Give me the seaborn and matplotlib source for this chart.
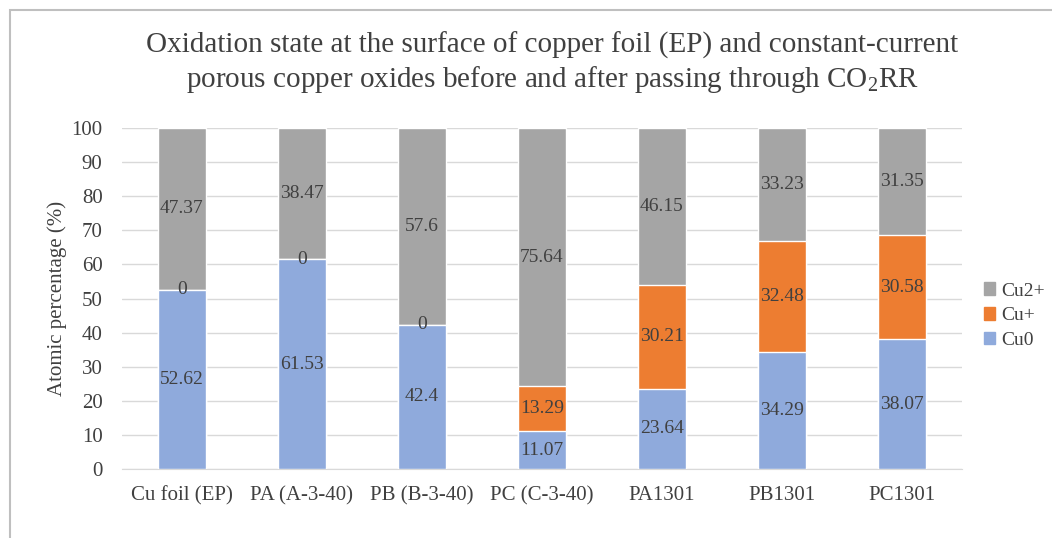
import numpy as np
import pandas as pd
import matplotlib
matplotlib.use("Agg")
import matplotlib.pyplot as plt
import seaborn as sns
from matplotlib.patches import Patch, Rectangle

samples = ["Cu foil (EP)", "PA (A-3-40)", "PB (B-3-40)", "PC (C-3-40)", "PA1301", "PB1301", "PC1301"]
cu0 = [52.62, 61.53, 42.4, 11.07, 23.64, 34.29, 38.07]
cu1 = [0, 0, 0, 13.29, 30.21, 32.48, 30.58]
cu2 = [47.37, 38.47, 57.6, 75.64, 46.15, 33.23, 31.35]

colors = {"Cu0": "#8FAADC", "Cu+": "#ED7D31", "Cu2+": "#A5A5A5"}

sns.set_style("white")
plt.rcParams["font.family"] = ["Liberation Serif", "DejaVu Serif"]
plt.rcParams["mathtext.fontset"] = "custom"
plt.rcParams["mathtext.rm"] = "Liberation Serif"

df = pd.DataFrame({"sample": samples, "Cu0": cu0, "Cu+": cu1, "Cu2+": cu2})
df["top0"] = df["Cu0"]
df["top1"] = df["Cu0"] + df["Cu+"]
df["top2"] = df["top1"] + df["Cu2+"]

fig = plt.figure(figsize=(10.52, 5.38), dpi=100)
ax = fig.add_axes([0.116, 0.128, 0.798, 0.634])

# stacked bars: draw cumulative tops from largest to smallest
sns.barplot(data=df, x="sample", y="top2", color=colors["Cu2+"], width=0.4, ax=ax, saturation=1, zorder=3)
sns.barplot(data=df, x="sample", y="top1", color=colors["Cu+"], width=0.4, ax=ax, saturation=1, zorder=3)
sns.barplot(data=df, x="sample", y="top0", color=colors["Cu0"], width=0.4, ax=ax, saturation=1, zorder=3)

lab = dict(ha="center", va="center", fontsize=14, color="#404040", zorder=5)
for i, row in df.iterrows():
    ax.text(i, row["Cu0"] / 2, f"{row['Cu0']:g}", **lab)
    ax.text(i, row["Cu0"] + row["Cu+"] / 2, f"{row['Cu+']:g}", **lab)
    ax.text(i, row["top1"] + row["Cu2+"] / 2, f"{row['Cu2+']:g}", **lab)

ax.set_ylim(0, 100)
ax.set_xlim(-0.5, len(samples) - 0.5)
ax.set_yticks(np.arange(0, 101, 10))
ax.yaxis.grid(True, color="#D9D9D9", linewidth=1, zorder=0)
ax.set_axisbelow(True)
for s in ["top", "right", "left"]:
    ax.spines[s].set_visible(False)
ax.spines["bottom"].set_color("#D9D9D9")
ax.tick_params(axis="both", length=0, labelsize=15, colors="#404040")
ax.tick_params(axis="x", pad=12)
ax.tick_params(axis="y", pad=14)
ax.set_xlabel("")
ax.set_ylabel("Atomic percentage (%)", fontsize=15, color="#404040", labelpad=3)

fig.text(0.525, 0.915, "Oxidation state at the surface of copper foil (EP) and constant-current",
         ha="center", va="center", fontsize=21, color="#404040")
fig.text(0.525, 0.852, "porous copper oxides before and after passing through CO$_2$RR",
         ha="center", va="center", fontsize=21, color="#404040")

handles = [Patch(color=colors[k]) for k in ["Cu2+", "Cu+", "Cu0"]]
fig.legend(handles, ["Cu2+", "Cu+", "Cu0"], loc="center left", bbox_to_anchor=(0.935, 0.413),
           frameon=False, fontsize=14, handlelength=0.6, handleheight=0.6, labelcolor="#404040",
           handletextpad=0.3, labelspacing=0.4, borderaxespad=0, borderpad=0)

fig.patches.append(Rectangle((10 / 1052, -0.1), 1.2, 1.1 - 10 / 538, transform=fig.transFigure,
                             fill=False, edgecolor="#BFBFBF", linewidth=1.5))

fig.savefig("out.png", dpi=100)
